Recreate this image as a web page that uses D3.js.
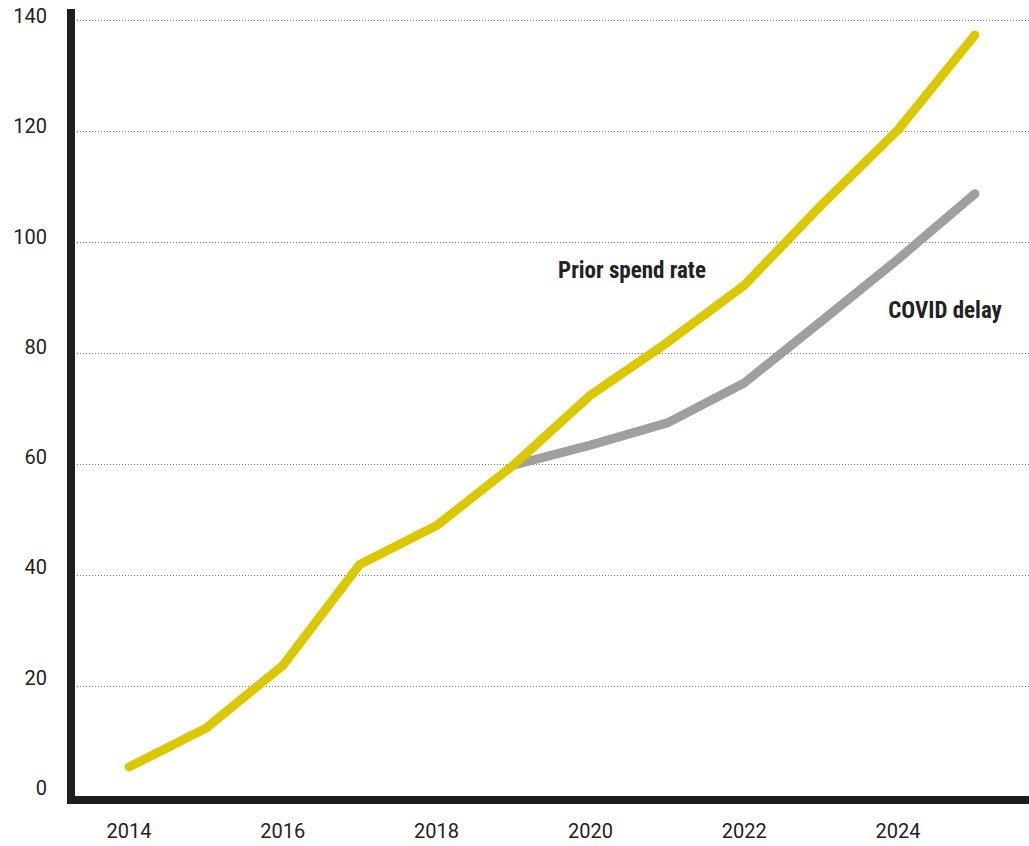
<!DOCTYPE html>
<html>
<head>
<meta charset="utf-8">
<script src="https://cdn.jsdelivr.net/npm/d3@7"></script>
<style>
  body { margin: 0; background: #fff; }
  .tick-label { font-family: "Roboto", sans-serif; }
  .series-label { font-family: "Liberation Sans Narrow", "Roboto", sans-serif; font-stretch: condensed; }
</style>
</head>
<body>
<div id="chart"></div>
<script>
// values
const years = [2014, 2015, 2016, 2017, 2018, 2019, 2020, 2021, 2022, 2023, 2024, 2025];
const priorRate = [5.4, 12.4, 23.7, 41.9, 48.9, 59.8, 72.4, 81.9, 92.2, 106.6, 120.2, 137.3];
const covidYears = [2019, 2020, 2021, 2022, 2023, 2024, 2025];
const covidDelay = [59.8, 63.4, 67.4, 74.6, 85.7, 96.9, 108.7];
const yTicks = [0, 20, 40, 60, 80, 100, 120, 140];
const xTicks = [2014, 2016, 2018, 2020, 2022, 2024];

const width = 1029, height = 846;

const svg = d3.select("#chart").append("svg")
    .attr("width", width)
    .attr("height", height);

const x = d3.scaleLinear().domain([2014, 2024]).range([129, 898]);
const y = d3.scaleLinear().domain([0, 140]).range([797, 20]);
//tick labels are spaced a little tighter than the gridlines in the original
const yLabel = y.copy().range([795, 23]);

//dotted gridlines
svg.append("g")
    .selectAll("line")
    .data(yTicks.filter(d => d > 0))
    .enter()
    .append("line")
    .attr("x1", 77)
    .attr("x2", width)
    .attr("y1", d => y(d) + 0.5)
    .attr("y2", d => y(d) + 0.5)
    .attr("stroke", "#777")
    .attr("stroke-width", 1)
    .attr("stroke-dasharray", "1 2");

//y tick labels
svg.append("g")
    .selectAll("text")
    .data(yTicks)
    .enter()
    .append("text")
    .attr("class", "tick-label")
    .attr("x", 47)
    .attr("y", d => yLabel(d))
    .attr("text-anchor", "end")
    .attr("font-size", 20)
    .attr("fill", "#222")
    .text(d => d);

//x tick labels
svg.append("g")
    .selectAll("text")
    .data(xTicks)
    .enter()
    .append("text")
    .attr("class", "tick-label")
    .attr("x", d => x(d))
    .attr("y", 838)
    .attr("text-anchor", "middle")
    .attr("font-size", 20)
    .attr("fill", "#222")
    .text(d => d);

const line = d3.line()
    .x(d => x(d[0]))
    .y(d => y(d[1]));

svg.append("path")
    .datum(covidYears.map((d, i) => [d, covidDelay[i]]))
    .attr("d", line)
    .attr("fill", "none")
    .attr("stroke", "#a09f9d")
    .attr("stroke-width", 9)
    .attr("stroke-linecap", "round")
    .attr("stroke-linejoin", "round");

svg.append("path")
    .datum(years.map((d, i) => [d, priorRate[i]]))
    .attr("d", line)
    .attr("fill", "none")
    .attr("stroke", "#dcc800")
    .attr("stroke-width", 9)
    .attr("stroke-linecap", "round")
    .attr("stroke-linejoin", "round");

//axis lines
svg.append("line")
    .attr("x1", 71).attr("x2", 71)
    .attr("y1", 9).attr("y2", 804)
    .attr("stroke", "#1e1e1c")
    .attr("stroke-width", 8);
svg.append("line")
    .attr("x1", 67).attr("x2", width)
    .attr("y1", 800).attr("y2", 800)
    .attr("stroke", "#1e1e1c")
    .attr("stroke-width", 8);

//series labels
svg.append("text")
    .attr("class", "series-label")
    .attr("x", 632)
    .attr("y", 278)
    .attr("text-anchor", "middle")
    .attr("font-size", 23)
    .attr("font-weight", "bold")
    .attr("fill", "#222")
    .text("Prior spend rate");

svg.append("text")
    .attr("class", "series-label")
    .attr("x", 945)
    .attr("y", 318)
    .attr("text-anchor", "middle")
    .attr("font-size", 23)
    .attr("font-weight", "bold")
    .attr("fill", "#222")
    .text("COVID delay");
</script>
</body>
</html>
